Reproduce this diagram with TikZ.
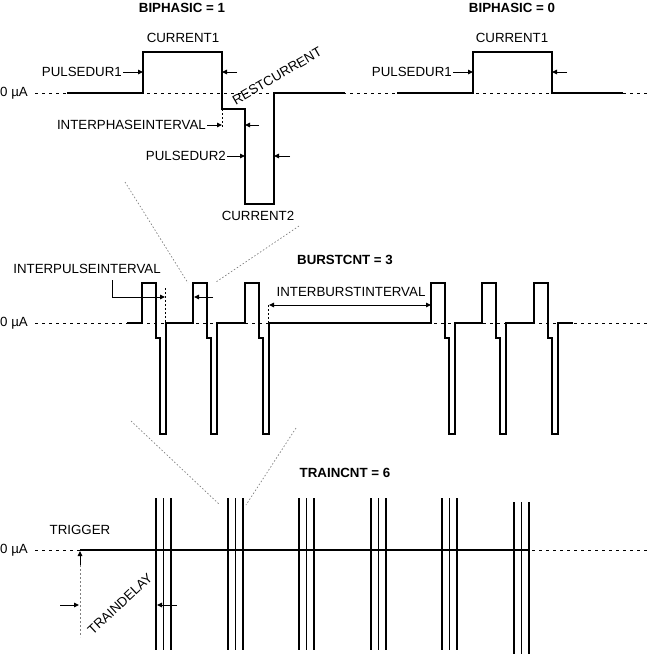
\documentclass[tikz,border=0pt]{standalone}
\usepackage{fontspec}
\setmainfont{Liberation Sans}
\usetikzlibrary{arrows.meta,positioning}

\tikzset{
  wave/.style={line width=1.2pt},
  zero/.style={line width=1pt,dash pattern=on 3pt off 4pt},
  marker/.style={line width=0.8pt,dash pattern=on 2pt off 2pt},
  zoomline/.style={gray,line width=0.7pt,dash pattern=on 1.5pt off 2pt},
  ptr/.style={line width=1pt,-{Triangle[length=5pt,width=4.5pt]}},
  lbl/.style={font=\fontsize{13.3}{15}\selectfont,inner sep=1pt},
  title/.style={font=\fontsize{13.3}{15}\selectfont\bfseries,inner sep=1pt}
}

\begin{document}
\begin{tikzpicture}[x=1pt,y=-1pt]
\useasboundingbox (0,0) rectangle (651,654);

% titles
\node[title] (bip1) at (182,8) {BIPHASIC = 1};
\node[title] (bip0) at (512,8) {BIPHASIC = 0};
\node[title] (bcnt) at (345,260) {BURSTCNT = 3};
\node[title] (tcnt) at (345,473) {TRAINCNT = 6};

% zero levels
\node[lbl,anchor=east] (z1) at (29,93) {0 µA};
\node[lbl,anchor=east] (z2) at (29,323) {0 µA};
\node[lbl,anchor=east] (z3) at (29,550) {0 µA};
\draw[zero] (35,93) -- (651,93);
\draw[zero] (35,323) -- (651,323);
\draw[zero] (35,550) -- (651,550);

% single pulse, biphasic
\draw[wave] (67,93) -- (143,93) -- (143,52) -- (222,52) -- (222,109) -- (245,109)
  -- (245,204) -- (274,204) -- (274,93) -- (345,93);
\draw[wave] (397,93) -- (473,93) -- (473,52) -- (552,52) -- (552,93) -- (623,93);

\node[lbl] (cur1) at (183,38) {CURRENT1};
\node[lbl] (cur1b) at (512,38) {CURRENT1};
\node[lbl] (cur2) at (258,216) {CURRENT2};
\node[lbl,rotate=30] (rest) at (277,76) {RESTCURRENT};
\node[lbl,anchor=east] (pd1) at (123,72) {PULSEDUR1};
\node[lbl,anchor=east] (pd1b) at (453,72) {PULSEDUR1};
\node[lbl,anchor=east] (ipi) at (207,125) {INTERPHASEINTERVAL};
\node[lbl,anchor=east] (pd2) at (227,156) {PULSEDUR2};

\coordinate (pd1r) at (143,72);
\coordinate (pd1f) at (222,72);
\coordinate (pd1fs) at (237,72);
\coordinate (pd1br) at (473,72);
\coordinate (pd1bf) at (552,72);
\coordinate (pd1bfs) at (567,72);
\coordinate (ipie) at (222,125);
\coordinate (ipir) at (245,125);
\coordinate (ipirs) at (259,125);
\coordinate (pd2r) at (245,156);
\coordinate (pd2f) at (274,156);
\coordinate (pd2fs) at (290,156);

\draw[marker] (222,109) -- (222,129);
\draw[ptr] (pd1.east) -- (pd1r);
\draw[ptr] (pd1fs) -- (pd1f);
\draw[ptr] (pd1b.east) -- (pd1br);
\draw[ptr] (pd1bfs) -- (pd1bf);
\draw[ptr] (ipi.east) -- (ipie);
\draw[ptr] (ipirs) -- (ipir);
\draw[ptr] (pd2.east) -- (pd2r);
\draw[ptr] (pd2fs) -- (pd2f);

% zoom lines
\draw[zoomline] (125,182) -- (188,283);
\draw[zoomline] (299,226) -- (216,282);
\draw[zoomline] (131,421) -- (220,505);
\draw[zoomline] (296,428) -- (246,505);

% bursts
\draw[wave] (127,323) foreach \x in {142,193,245,431,482,534} {
  -- (\x,323) -- (\x,283) -- (\x+14,283) -- (\x+14,338) -- (\x+18,338)
  -- (\x+18,434) -- (\x+24,434) -- (\x+24,323) } -- (573,323);

\node[lbl] (ipu) at (87,269) {INTERPULSEINTERVAL};
\node[lbl] (ibi) at (351,292) {INTERBURSTINTERVAL};
\coordinate (ipuk) at (112,297);
\coordinate (ipue) at (165,297);
\coordinate (ipur) at (194,297);
\coordinate (ipurs) at (213,297);
\coordinate (ibil) at (269,305);
\coordinate (ibir) at (431,305);

\draw[marker] (165,288) -- (165,323);
\draw[marker] (268,305) -- (268,323);
\draw[ptr] (112,280) -- (ipuk) -- (ipue);
\draw[ptr] (ipurs) -- (ipur);
\draw[line width=1pt,{Triangle[length=5pt,width=4.5pt]}-{Triangle[length=5pt,width=4.5pt]}] (ibil) -- (ibir);

% trains
\draw[wave] (80,550) -- (530,550);
\foreach \x in {156,228,299,371,442}
  \foreach \d in {0,7.5,15}
    \draw[wave] (\x+\d,498) -- (\x+\d,650);
\foreach \d in {0,7.5,15}
  \draw[wave] (514+\d,502) -- (514+\d,654);

\node[lbl] (trig) at (80,530) {TRIGGER};
\node[lbl,rotate=43] (tdel) at (120,604) {TRAINDELAY};
\coordinate (trigs) at (80,565);
\coordinate (trige) at (80,551);
\coordinate (tdl) at (79,605);
\coordinate (tdls) at (60,605);
\coordinate (tdr) at (157,605);
\coordinate (tdrs) at (177,605);

\draw[marker,gray] (80,565) -- (80,637);
\draw[ptr] (trigs) -- (trige);
\draw[ptr] (tdls) -- (tdl);
\draw[ptr] (tdrs) -- (tdr);
\end{tikzpicture}
\end{document}
